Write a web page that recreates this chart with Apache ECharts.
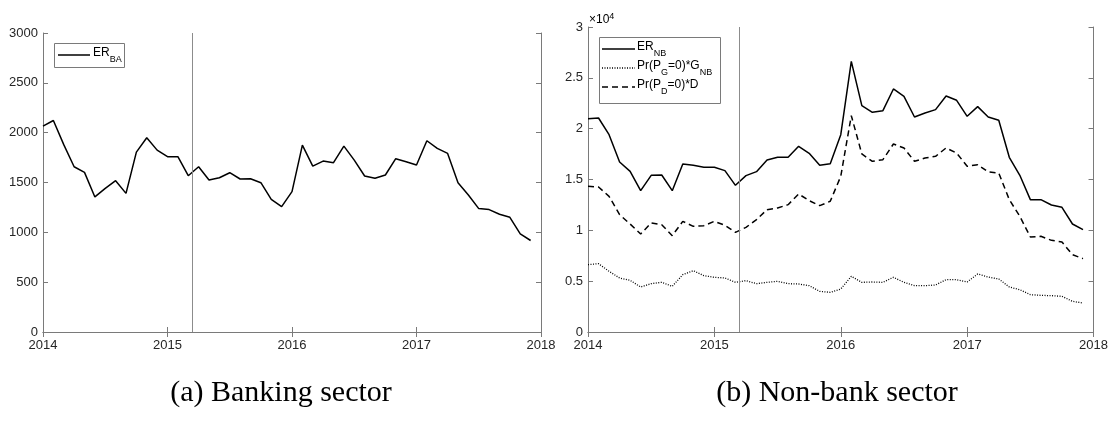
<!DOCTYPE html>
<html>
<head>
<meta charset="utf-8">
<script src="https://cdn.jsdelivr.net/npm/echarts@6/dist/echarts.min.js"></script>
<style>
  html, body { margin: 0; padding: 0; background: #fff; }
  #chart { width: 1111px; height: 421px; }
</style>
</head>
<body>
<div id="chart"></div>
<script>
// Monthly observations, Jan 2014 - Dec 2017
const months = [
  '2014-01','2014-02','2014-03','2014-04','2014-05','2014-06','2014-07','2014-08','2014-09','2014-10','2014-11','2014-12',
  '2015-01','2015-02','2015-03','2015-04','2015-05','2015-06','2015-07','2015-08','2015-09','2015-10','2015-11','2015-12',
  '2016-01','2016-02','2016-03','2016-04','2016-05','2016-06','2016-07','2016-08','2016-09','2016-10','2016-11','2016-12',
  '2017-01','2017-02','2017-03','2017-04','2017-05','2017-06','2017-07','2017-08','2017-09','2017-10','2017-11','2017-12'
];

// (a) Banking sector
const erBA = [2066,2122,1880,1658,1602,1355,1441,1518,1391,1805,1949,1825,
              1759,1759,1568,1658,1525,1548,1598,1535,1538,1498,1331,1258,
              1408,1875,1665,1715,1699,1865,1725,1565,1542,1575,1739,1709,
              1675,1919,1842,1792,1498,1375,1238,1228,1181,1151,984,918];

// (b) Non-bank sector
const erNB = [20986,21051,19412,16723,15805,13903,15411,15444,13903,16526,16395,16198,
              16198,15870,14428,15378,15772,16920,17182,17182,18264,17575,16395,16559,
              19412,26625,22264,21609,21773,23904,23183,21150,21543,21871,23215,22789,
              21215,22166,21150,20822,17182,15411,13018,13018,12493,12263,10624,10066];
const prG  = [6624,6722,5968,5312,5082,4427,4755,4886,4492,5640,6033,5541,
              5378,5312,4886,5050,4755,4886,4984,4755,4722,4558,4000,3902,
              4230,5476,4886,4919,4886,5378,4886,4558,4558,4623,5148,5148,
              4919,5706,5410,5214,4427,4164,3672,3607,3574,3509,3017,2853];
const prD  = [14330,14264,13346,11542,10624,9640,10722,10558,9476,10886,10394,10460,
              10886,10493,9804,10296,11050,12034,12198,12526,13575,12919,12427,12854,
              15313,21281,17510,16788,16952,18494,18100,16788,17116,17280,18100,17608,
              16296,16461,15739,15641,13018,11378,9345,9411,9017,8853,7607,7214];

// Year tick labels and the event date marked by the vertical line
const yearTicks = ['2014','2015','2016','2017','2018'];
const eventDate = 2015.2;

// month string -> decimal year
function toYear(m) {
  const [y, mo] = m.split('-').map(Number);
  return y + (mo - 1) / 12;
}
function pairs(vals) { return months.map((m, i) => [toYear(m), vals[i]]); }

const AX = '#7a7a7a';
const TXT = '#262626';
const FONT = 'Liberation Sans, Arial, sans-serif';

function xAxes(grid) {
  const base = {
    gridIndex: grid, type: 'value',
    min: Number(yearTicks[0]), max: Number(yearTicks[yearTicks.length - 1]), interval: 1,
    splitLine: { show: false },
    axisLine: { show: true, lineStyle: { color: AX, width: 1 } },
    axisTick: { show: true, inside: true, length: 5, lineStyle: { color: AX } }
  };
  return [
    Object.assign({}, base, {
      position: 'bottom',
      axisLabel: { color: TXT, fontFamily: FONT, fontSize: 13, margin: 7,
                   formatter: v => String(Math.round(v)) }
    }),
    Object.assign({}, base, { position: 'top', axisLabel: { show: false } })
  ];
}
function yAxes(grid, max, interval, fmt) {
  const base = {
    gridIndex: grid, type: 'value', min: 0, max: max, interval: interval,
    splitLine: { show: false },
    axisLine: { show: true, lineStyle: { color: AX, width: 1 } },
    axisTick: { show: true, inside: true, length: 5, lineStyle: { color: AX } }
  };
  return [
    Object.assign({}, base, {
      position: 'left',
      axisLabel: { color: TXT, fontFamily: FONT, fontSize: 13, margin: 5, formatter: fmt }
    }),
    Object.assign({}, base, { position: 'right', axisLabel: { show: false } })
  ];
}

const vline = {
  silent: true, symbol: 'none', animation: false,
  label: { show: false },
  lineStyle: { color: '#8c8c8c', width: 1, type: 'solid' },
  data: [{ xAxis: eventDate }]
};

function lineSeries(name, vals, xi, yi, style, withMark) {
  const s = {
    name: name, type: 'line', xAxisIndex: xi, yAxisIndex: yi,
    data: pairs(vals), symbol: 'none', animation: false,
    lineStyle: Object.assign({ color: '#000', width: 1.5 }, style)
  };
  if (withMark) s.markLine = vline;
  return s;
}

const subRich = {
  a: { fontSize: 12, fontFamily: FONT, color: '#000', lineHeight: 14, verticalAlign: 'top' },
  s: { fontSize: 9, fontFamily: FONT, color: '#000', lineHeight: 9, verticalAlign: 'top', padding: [8, 0, 0, 0] }
};

const chart = echarts.init(document.getElementById('chart'), null, { renderer: 'canvas' });
chart.setOption({
  backgroundColor: '#fff',
  animation: false,
  grid: [
    { left: 43, top: 33, width: 498, height: 299 },
    { left: 588, top: 27, width: 508, height: 305 }
  ],
  xAxis: xAxes(0).concat(xAxes(1)),
  yAxis: yAxes(0, 3000, 500, v => String(v))
    .concat(yAxes(1, 30000, 5000, v => String(v / 10000))),
  series: [
    lineSeries('ER_BA', erBA, 0, 0, {}, true),
    lineSeries('ER_NB', erNB, 2, 2, {}, true),
    lineSeries('Pr(P_G=0)*G_NB', prG, 2, 2, { type: [1, 1.5], width: 1.3 }, false),
    lineSeries('Pr(P_D=0)*D', prD, 2, 2, { type: [6, 4], width: 1.5 }, false)
  ],
  graphic: [
    // legend, banking panel
    { type: 'rect', shape: { x: 54.5, y: 43.5, width: 70, height: 24 },
      style: { fill: '#fff', stroke: '#7a7a7a', lineWidth: 1 } },
    { type: 'line', shape: { x1: 58, y1: 55, x2: 90, y2: 55 }, style: { stroke: '#000', lineWidth: 1.5 } },
    { type: 'text', left: 93, top: 47,
      style: { text: '{a|ER}{s|BA}', rich: subRich } },

    // legend, non-bank panel
    { type: 'rect', shape: { x: 599.5, y: 37.5, width: 121, height: 66 },
      style: { fill: '#fff', stroke: '#7a7a7a', lineWidth: 1 } },
    { type: 'line', shape: { x1: 602, y1: 49, x2: 635, y2: 49 }, style: { stroke: '#000', lineWidth: 1.5 } },
    { type: 'line', shape: { x1: 602, y1: 68, x2: 635, y2: 68 },
      style: { stroke: '#000', lineWidth: 1.3, lineDash: [1, 1.5] } },
    { type: 'line', shape: { x1: 602, y1: 87, x2: 635, y2: 87 },
      style: { stroke: '#000', lineWidth: 1.5, lineDash: [6, 4] } },
    { type: 'text', left: 637, top: 41,
      style: { text: '{a|ER}{s|NB}', rich: subRich } },
    { type: 'text', left: 637, top: 60,
      style: { text: '{a|Pr(P}{s|G}{a|=0)*G}{s|NB}', rich: subRich } },
    { type: 'text', left: 637, top: 79,
      style: { text: '{a|Pr(P}{s|D}{a|=0)*D}', rich: subRich } },

    // axis exponent
    { type: 'text', left: 589, top: 12,
      style: { text: '{m|\u00d710}{e|4}',
        rich: {
          m: { fontSize: 12, fontFamily: FONT, color: TXT, verticalAlign: 'bottom', lineHeight: 14 },
          e: { fontSize: 9, fontFamily: FONT, color: TXT, verticalAlign: 'top', lineHeight: 9 }
        } } },

    // captions
    { type: 'text', x: 281, y: 393,
      style: { text: '(a) Banking sector', fontFamily: 'Liberation Serif, Times New Roman, serif',
               fontSize: 30, fill: '#000', textAlign: 'center', textVerticalAlign: 'middle' } },
    { type: 'text', x: 837, y: 393,
      style: { text: '(b) Non-bank sector', fontFamily: 'Liberation Serif, Times New Roman, serif',
               fontSize: 30, fill: '#000', textAlign: 'center', textVerticalAlign: 'middle' } }
  ]
});
</script>
</body>
</html>
